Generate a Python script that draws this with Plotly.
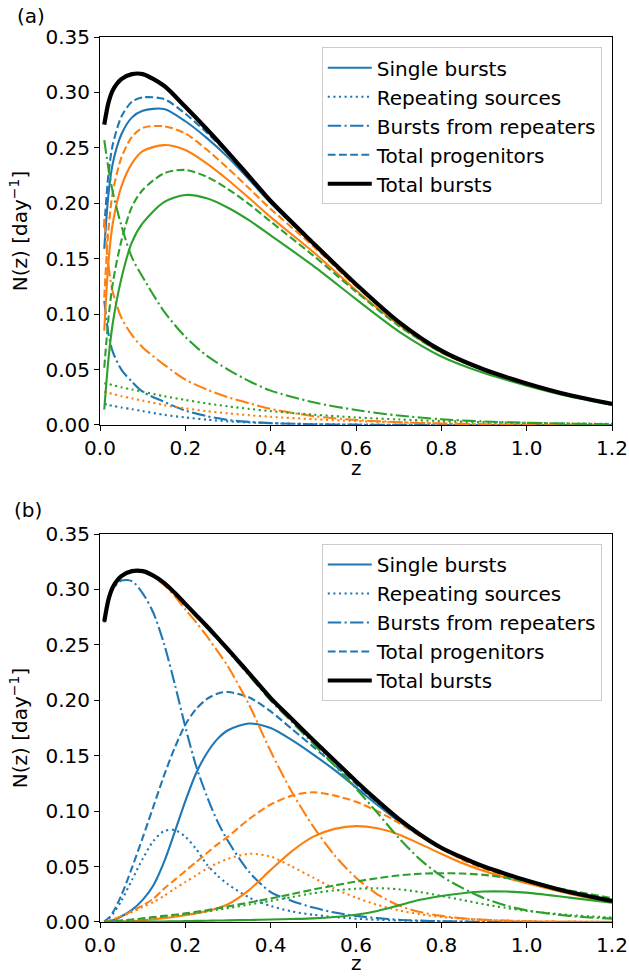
import plotly.graph_objects as go

# ---------------- data : panel (a) ----------------
Z_A = [0.01, 0.02, 0.03, 0.05, 0.075, 0.1, 0.15, 0.2, 0.25, 0.3, 0.35, 0.4,
       0.5, 0.6, 0.7, 0.8, 0.9, 1.0, 1.1, 1.2]

TOTAL_A = [0.271, 0.291, 0.302, 0.312, 0.3165, 0.3165, 0.306, 0.287, 0.267, 0.246,
           0.224, 0.202, 0.164, 0.127, 0.093, 0.067, 0.050, 0.0375, 0.027, 0.019]

BLUE_SINGLE_A = [0.159, 0.209, 0.236, 0.262, 0.2775, 0.2835, 0.285, 0.274, 0.259, 0.2415,
                 0.2212, 0.2003, 0.1633, 0.1267, 0.0929, 0.067, 0.050, 0.0375, 0.027, 0.019]
BLUE_REP_A = [0.019, 0.018, 0.0172, 0.0158, 0.0142, 0.0125, 0.0092, 0.0068, 0.0048, 0.0033,
              0.0023, 0.0016, 0.0008, 0.0004, 0.0002, 0.0001, 0.0, 0.0, 0.0, 0.0]
BLUE_BFR_A = [0.112, 0.082, 0.066, 0.050, 0.039, 0.030, 0.021, 0.013, 0.008, 0.0045,
              0.0028, 0.0017, 0.0007, 0.0003, 0.0001, 0.0, 0.0, 0.0, 0.0, 0.0]
BLUE_PROG_A = [0.178, 0.227, 0.253, 0.278, 0.2917, 0.2955, 0.294, 0.2808, 0.2638, 0.2448,
               0.2235, 0.2019, 0.1641, 0.1271, 0.0931, 0.0671, 0.050, 0.0375, 0.027, 0.019]

ORANGE_SINGLE_A = [0.085, 0.148, 0.182, 0.215, 0.236, 0.247, 0.2525, 0.248, 0.236, 0.221,
                   0.2045, 0.1875, 0.156, 0.1215, 0.0905, 0.0655, 0.0493, 0.0372, 0.0268, 0.0189]
ORANGE_REP_A = [0.030, 0.029, 0.028, 0.026, 0.024, 0.022, 0.018, 0.015, 0.0125, 0.0105,
                0.0088, 0.0074, 0.0052, 0.0036, 0.0025, 0.0017, 0.0011, 0.0007, 0.0005, 0.0003]
ORANGE_BFR_A = [0.186, 0.143, 0.120, 0.097, 0.081, 0.070, 0.0545, 0.041, 0.032, 0.025,
                0.0195, 0.0145, 0.008, 0.0045, 0.0025, 0.0013, 0.0007, 0.0003, 0.0002, 0.0001]
ORANGE_PROG_A = [0.115, 0.177, 0.210, 0.241, 0.260, 0.268, 0.2695, 0.263, 0.2485, 0.2315,
                 0.2133, 0.1949, 0.1612, 0.1251, 0.093, 0.0672, 0.0504, 0.0379, 0.0273, 0.0192]

GREEN_SINGLE_A = [0.014, 0.060, 0.092, 0.132, 0.165, 0.182, 0.201, 0.2075, 0.2045, 0.196,
                  0.1845, 0.171, 0.1435, 0.1135, 0.0845, 0.0618, 0.0468, 0.0355, 0.0258, 0.0183]
GREEN_REP_A = [0.0376, 0.037, 0.036, 0.034, 0.032, 0.030, 0.026, 0.0226, 0.0195, 0.0168,
               0.0145, 0.0125, 0.0093, 0.0068, 0.005, 0.0036, 0.0026, 0.0019, 0.0014, 0.001]
GREEN_BFR_A = [0.257, 0.231, 0.210, 0.180, 0.151, 0.1335, 0.1025, 0.0795, 0.0625, 0.050,
               0.0395, 0.031, 0.0205, 0.0135, 0.0085, 0.0052, 0.0032, 0.002, 0.0012, 0.0007]
GREEN_PROG_A = [0.0516, 0.097, 0.128, 0.166, 0.197, 0.212, 0.227, 0.2301, 0.224, 0.2128,
                0.199, 0.1835, 0.1528, 0.1203, 0.0895, 0.0654, 0.0494, 0.0374, 0.0272, 0.0193]

# ---------------- data : panel (b) ----------------
Z_B = [0.01, 0.02, 0.03, 0.05, 0.075, 0.1, 0.125, 0.15, 0.175, 0.2, 0.225, 0.25, 0.275,
       0.3, 0.35, 0.4, 0.45, 0.5, 0.55, 0.6, 0.65, 0.7, 0.75, 0.8, 0.85, 0.9, 0.95, 1.0,
       1.1, 1.2]

TOTAL_B = [0.271, 0.291, 0.302, 0.312, 0.3165, 0.3165, 0.3125, 0.306, 0.297, 0.287, 0.277,
           0.267, 0.2565, 0.246, 0.224, 0.202, 0.183, 0.164, 0.1455, 0.127, 0.1095, 0.093,
           0.079, 0.067, 0.058, 0.050, 0.0435, 0.0375, 0.027, 0.019]

BLUE_SINGLE_B = [0.0, 0.0005, 0.0015, 0.005, 0.011, 0.020, 0.033, 0.054, 0.081, 0.109, 0.134,
                 0.152, 0.165, 0.173, 0.179, 0.175, 0.164, 0.151, 0.137, 0.1215, 0.1055, 0.091,
                 0.078, 0.066, 0.0575, 0.0497, 0.0433, 0.0374, 0.027, 0.019]
BLUE_REP_B = [0.0005, 0.003, 0.007, 0.019, 0.038, 0.057, 0.073, 0.082, 0.083, 0.077, 0.066,
              0.052, 0.042, 0.034, 0.022, 0.0145, 0.0095, 0.0065, 0.0045, 0.003, 0.002, 0.0014,
              0.001, 0.0007, 0.0005, 0.0003, 0.0002, 0.0001, 0.0, 0.0]
BLUE_BFR_B = [0.270, 0.290, 0.300, 0.308, 0.3075, 0.2965, 0.279, 0.251, 0.215, 0.176, 0.141,
              0.114, 0.091, 0.073, 0.045, 0.027, 0.019, 0.013, 0.0085, 0.0055, 0.0035, 0.002,
              0.0012, 0.0007, 0.0004, 0.0002, 0.0001, 0.0, 0.0, 0.0]
BLUE_PROG_B = [0.0005, 0.0035, 0.0085, 0.024, 0.049, 0.076, 0.104, 0.132, 0.157, 0.178, 0.192,
               0.201, 0.206, 0.2075, 0.2025, 0.190, 0.174, 0.158, 0.1415, 0.1245, 0.1075,
               0.0924, 0.079, 0.0667, 0.058, 0.050, 0.0435, 0.0375, 0.027, 0.019]

ORANGE_SINGLE_B = [0.0, 0.0, 0.0001, 0.0003, 0.0008, 0.0015, 0.0025, 0.0035, 0.0048, 0.0062,
                   0.0078, 0.0098, 0.0125, 0.016, 0.029, 0.047, 0.064, 0.077, 0.084, 0.0865,
                   0.0845, 0.079, 0.0705, 0.0615, 0.053, 0.046, 0.040, 0.035, 0.0255, 0.0178]
ORANGE_REP_B = [0.0, 0.001, 0.002, 0.005, 0.009, 0.0135, 0.018, 0.0235, 0.030, 0.036, 0.042,
                0.048, 0.053, 0.057, 0.0615, 0.059, 0.050, 0.040, 0.030, 0.022, 0.0155, 0.0105,
                0.007, 0.0045, 0.003, 0.002, 0.0013, 0.0009, 0.0004, 0.0002]
ORANGE_BFR_B = [0.271, 0.291, 0.302, 0.3118, 0.3162, 0.316, 0.3115, 0.304, 0.294, 0.282,
                0.2705, 0.258, 0.2445, 0.2305, 0.1955, 0.154, 0.117, 0.086, 0.060, 0.040,
                0.025, 0.015, 0.009, 0.0055, 0.0033, 0.002, 0.0012, 0.0007, 0.0003, 0.0001]
ORANGE_PROG_B = [0.0, 0.001, 0.0021, 0.0053, 0.0098, 0.015, 0.021, 0.030, 0.038, 0.046, 0.054,
                 0.062, 0.070, 0.077, 0.093, 0.106, 0.114, 0.117, 0.114, 0.1085, 0.100, 0.0895,
                 0.0775, 0.066, 0.056, 0.048, 0.0413, 0.0359, 0.0259, 0.018]

GREEN_SINGLE_B = [0.0, 0.0, 0.0, 0.0001, 0.0002, 0.0003, 0.0004, 0.0005, 0.0006, 0.0008, 0.001,
                  0.0011, 0.0013, 0.0015, 0.0018, 0.0022, 0.0027, 0.0033, 0.0045, 0.0065, 0.010,
                  0.015, 0.020, 0.0235, 0.026, 0.0275, 0.0275, 0.0265, 0.022, 0.0175]
GREEN_REP_B = [0.0, 0.0003, 0.0006, 0.0012, 0.002, 0.003, 0.004, 0.005, 0.006, 0.007, 0.0082,
               0.0095, 0.011, 0.0125, 0.0158, 0.019, 0.0225, 0.026, 0.0285, 0.030, 0.0305,
               0.0295, 0.027, 0.0235, 0.0198, 0.016, 0.0128, 0.010, 0.0063, 0.004]
GREEN_BFR_B = [0.271, 0.291, 0.302, 0.312, 0.3163, 0.3162, 0.3121, 0.3055, 0.2964, 0.2862,
               0.276, 0.2657, 0.2552, 0.2445, 0.2222, 0.1998, 0.1803, 0.1607, 0.141, 0.1205,
               0.0985, 0.076, 0.0565, 0.0415, 0.0305, 0.0215, 0.015, 0.0105, 0.0055, 0.003]
GREEN_PROG_B = [0.0, 0.0003, 0.0006, 0.0013, 0.0022, 0.0033, 0.0044, 0.0055, 0.0066, 0.0078,
                0.0092, 0.0106, 0.0123, 0.014, 0.0176, 0.0212, 0.0252, 0.0293, 0.033, 0.0365,
                0.0395, 0.042, 0.0435, 0.044, 0.0437, 0.0425, 0.040, 0.0365, 0.0285, 0.0215]

LEGEND_NAMES = ["Single bursts", "Repeating sources", "Bursts from repeaters",
                "Total progenitors", "Total bursts"]
X_TICKS = [0.0, 0.2, 0.4, 0.6, 0.8, 1.0, 1.2]
Y_TICKS = [0.00, 0.05, 0.10, 0.15, 0.20, 0.25, 0.30, 0.35]

# ---------------- styles ----------------
BLUE, ORANGE, GREEN = "#1f77b4", "#ff7f0e", "#2ca02c"
LW, LW_TOTAL = 2.1, 4.2
DASHES = ["solid", "2.1px,3.5px", "13.4px,3.4px,2.1px,3.4px", "7.8px,3.4px"]
FONT = "DejaVu Sans"
FS = 20

fig = go.Figure()

panels = [
    ("x", "y", "legend", Z_A, TOTAL_A, [
        (BLUE, [BLUE_SINGLE_A, BLUE_REP_A, BLUE_BFR_A, BLUE_PROG_A]),
        (ORANGE, [ORANGE_SINGLE_A, ORANGE_REP_A, ORANGE_BFR_A, ORANGE_PROG_A]),
        (GREEN, [GREEN_SINGLE_A, GREEN_REP_A, GREEN_BFR_A, GREEN_PROG_A]),
    ]),
    ("x2", "y2", "legend2", Z_B, TOTAL_B, [
        (BLUE, [BLUE_SINGLE_B, BLUE_REP_B, BLUE_BFR_B, BLUE_PROG_B]),
        (ORANGE, [ORANGE_SINGLE_B, ORANGE_REP_B, ORANGE_BFR_B, ORANGE_PROG_B]),
        (GREEN, [GREEN_SINGLE_B, GREEN_REP_B, GREEN_BFR_B, GREEN_PROG_B]),
    ]),
]

for xa, ya, leg, z, total, groups in panels:
    for ci, (color, series) in enumerate(groups):
        for si, vals in enumerate(series):
            fig.add_trace(go.Scatter(
                x=z, y=vals, mode="lines", xaxis=xa, yaxis=ya,
                line=dict(color=color, width=LW, dash=DASHES[si], shape="spline", smoothing=0.8),
                name=LEGEND_NAMES[si], showlegend=(ci == 0), legend=leg,
                legendrank=si + 1, hoverinfo="skip"))
    fig.add_trace(go.Scatter(
        x=z, y=total, mode="lines", xaxis=xa, yaxis=ya,
        line=dict(color="black", width=LW_TOTAL, shape="spline", smoothing=0.8),
        name=LEGEND_NAMES[4], showlegend=True, legend=leg, legendrank=5, hoverinfo="skip"))

axis_common = dict(showline=True, mirror=True, linecolor="black", linewidth=1.1,
                   ticks="outside", ticklen=5, tickwidth=1.1, tickcolor="black",
                   showgrid=False, zeroline=False, automargin=False,
                   tickfont=dict(family=FONT, size=FS, color="black"))

DOM_B = [0.0, 0.4384]
DOM_A = [0.5616, 1.0]

for name, anchor in [("xaxis", "y"), ("xaxis2", "y2")]:
    fig.layout[name] = dict(axis_common, range=[0, 1.2], tickvals=X_TICKS, tickformat=".1f",
                            anchor=anchor, domain=[0, 1])
for name, anchor, dom in [("yaxis", "x", DOM_A), ("yaxis2", "x2", DOM_B)]:
    fig.layout[name] = dict(axis_common, range=[0, 0.35], tickvals=Y_TICKS, tickformat=".2f",
                            anchor=anchor, domain=dom,
                            title=dict(text="N(z) [day<sup>−1</sup>]",
                                       font=dict(family=FONT, size=FS, color="black"),
                                       standoff=12))

legend_common = dict(xref="paper", yref="paper", x=0.98, xanchor="right", yanchor="top",
                     bgcolor="rgba(255,255,255,0.8)", bordercolor="#cccccc", borderwidth=1,
                     font=dict(family=FONT, size=FS, color="black"), tracegroupgap=0,
                     itemwidth=44)
fig.update_layout(
    legend=dict(legend_common, y=0.9884),
    legend2=dict(legend_common, y=0.4271),
)

# x-axis titles
for ytitle in (0.513, -0.046):
    fig.add_annotation(text="z", xref="paper", yref="paper", x=0.5, y=ytitle,
                       xanchor="center", yanchor="middle", showarrow=False,
                       font=dict(family=FONT, size=FS, color="black"))

fig.add_annotation(text="(a)", xref="paper", yref="paper", x=-0.166, y=1.0237,
                   xanchor="left", yanchor="middle", showarrow=False,
                   font=dict(family=FONT, size=FS, color="black"))
fig.add_annotation(text="(b)", xref="paper", yref="paper", x=-0.172, y=0.4655,
                   xanchor="left", yanchor="middle", showarrow=False,
                   font=dict(family=FONT, size=FS, color="black"))

fig.update_layout(width=629, height=977, margin=dict(l=100, r=17, t=37, b=55),
                  paper_bgcolor="white", plot_bgcolor="white",
                  font=dict(family=FONT, size=FS, color="black"))

fig.write_html("out.html")
